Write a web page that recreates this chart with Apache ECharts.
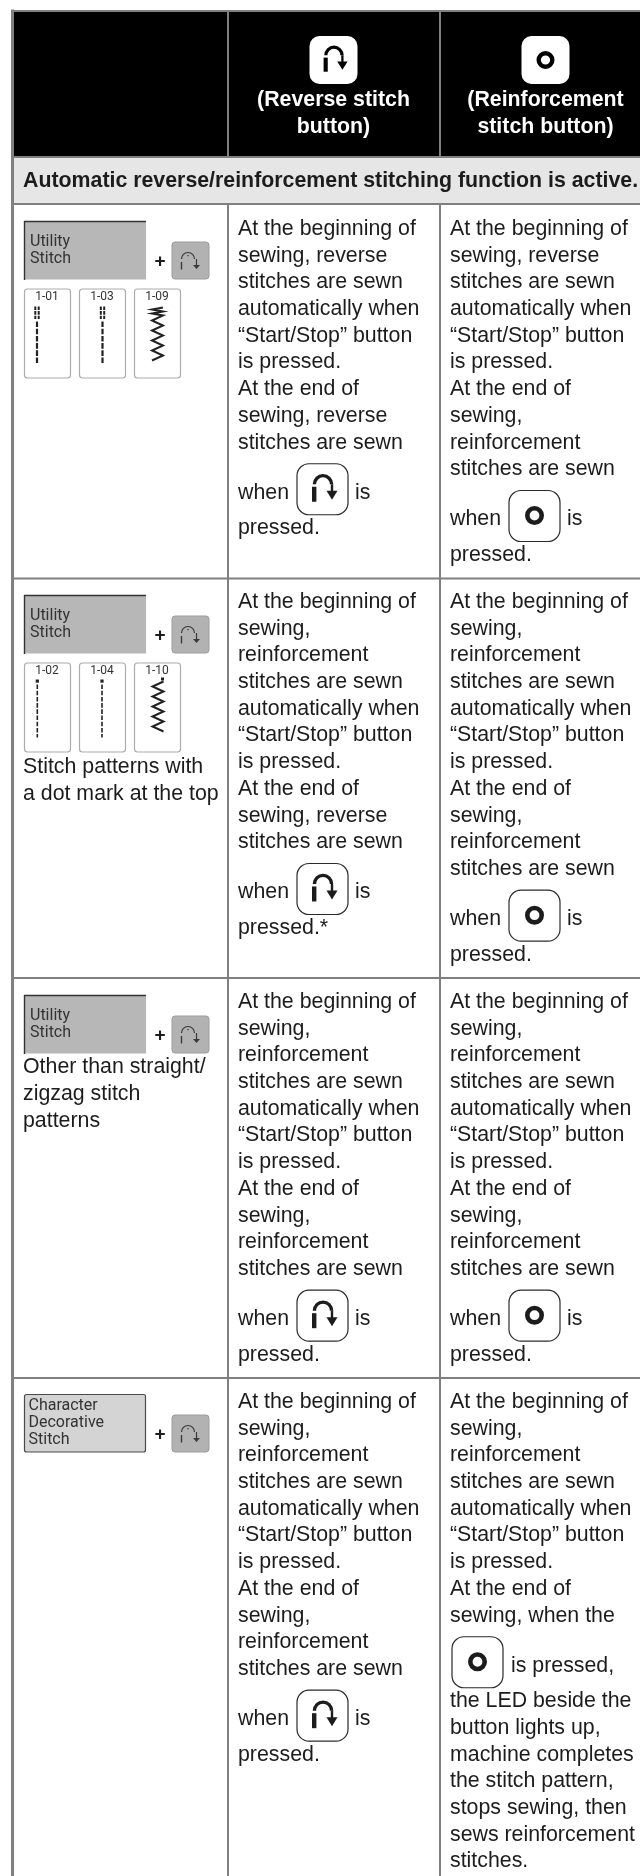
<!DOCTYPE html>
<html>
<head>
<meta charset="utf-8">
<style>
  html, body { margin: 0; padding: 0; background: #fff; }
  #chart { width: 640px; height: 1876px; }
</style>
<script src="https://cdn.jsdelivr.net/npm/echarts@6/dist/echarts.min.js"></script>
</head>
<body>
<div id="chart"></div>
<script>
// table content
const headLabels = [['(Reverse stitch', 'button)'], ['(Reinforcement', 'stitch button)']]
const sectionTitle = 'Automatic reverse/reinforcement stitching function is active.'
const panelNames = [['Utility', 'Stitch'], ['Utility', 'Stitch'], ['Utility', 'Stitch'], ['Character', 'Decorative', 'Stitch']]
const cardLabels = [['1-01', '1-03', '1-09'], ['1-02', '1-04', '1-10'], [], []]
const firstColNotes = [[], ['Stitch patterns with', 'a dot mark at the top'], ['Other than straight/', 'zigzag stitch', 'patterns'], []]
const reverseTexts = [
  ['At the beginning of', 'sewing, reverse', 'stitches are sewn', 'automatically when', '“Start/Stop” button', 'is pressed.', 'At the end of', 'sewing, reverse', 'stitches are sewn', 'when {r} is', 'pressed.'],
  ['At the beginning of', 'sewing,', 'reinforcement', 'stitches are sewn', 'automatically when', '“Start/Stop” button', 'is pressed.', 'At the end of', 'sewing, reverse', 'stitches are sewn', 'when {r} is', 'pressed.*'],
  ['At the beginning of', 'sewing,', 'reinforcement', 'stitches are sewn', 'automatically when', '“Start/Stop” button', 'is pressed.', 'At the end of', 'sewing,', 'reinforcement', 'stitches are sewn', 'when {r} is', 'pressed.'],
  ['At the beginning of', 'sewing,', 'reinforcement', 'stitches are sewn', 'automatically when', '“Start/Stop” button', 'is pressed.', 'At the end of', 'sewing,', 'reinforcement', 'stitches are sewn', 'when {r} is', 'pressed.']
]
const reinforceTexts = [
  ['At the beginning of', 'sewing, reverse', 'stitches are sewn', 'automatically when', '“Start/Stop” button', 'is pressed.', 'At the end of', 'sewing,', 'reinforcement', 'stitches are sewn', 'when {o} is', 'pressed.'],
  ['At the beginning of', 'sewing,', 'reinforcement', 'stitches are sewn', 'automatically when', '“Start/Stop” button', 'is pressed.', 'At the end of', 'sewing,', 'reinforcement', 'stitches are sewn', 'when {o} is', 'pressed.'],
  ['At the beginning of', 'sewing,', 'reinforcement', 'stitches are sewn', 'automatically when', '“Start/Stop” button', 'is pressed.', 'At the end of', 'sewing,', 'reinforcement', 'stitches are sewn', 'when {o} is', 'pressed.'],
  ['At the beginning of', 'sewing,', 'reinforcement', 'stitches are sewn', 'automatically when', '“Start/Stop” button', 'is pressed.', 'At the end of', 'sewing, when the', '{o} is pressed,', 'the LED beside the', 'button lights up,', 'machine completes', 'the stitch pattern,', 'stops sewing, then', 'sews reinforcement', 'stitches.']
]

// layout, in page pixels
const colEdges = [12.5, 228, 440, 640]
const rowEdges = [11, 157, 204, 578.5, 978, 1378, 1876]
const rowTops = rowEdges.slice(2, 6)
const firstLineGap = [25, 23.5, 24, 24]
const LINE = 26.72
const SANS = 'Liberation Sans'
const INK = '#1c1c1c'
const GRID = '#808080'

const chart = echarts.init(document.getElementById('chart'))

function px(api, x, y) { return api.coord([x, y]) }

function label(api, text, x, y, opt) {
  opt = opt || {}
  const p = px(api, x, y)
  return {
    type: 'text',
    style: {
      text, x: p[0], y: p[1],
      fontFamily: opt.family || SANS, fontSize: opt.size || 21.33, fontWeight: opt.weight || 'normal',
      fill: opt.fill || INK, textAlign: opt.align || 'left', textVerticalAlign: 'middle'
    }
  }
}
function box(api, x, y, w, h, r, fill, stroke, lw) {
  const p = px(api, x, y)
  return { type: 'rect', shape: { x: p[0], y: p[1], width: w, height: h, r }, style: { fill, stroke: stroke || null, lineWidth: lw || 0 } }
}
function seg(api, x1, y1, x2, y2, stroke, lw, dash) {
  const a = px(api, x1, y1), b = px(api, x2, y2)
  return { type: 'line', shape: { x1: a[0], y1: a[1], x2: b[0], y2: b[1] }, style: { stroke, lineWidth: lw, lineDash: dash || null } }
}
function poly(api, pts, style, closed) {
  return { type: closed ? 'polygon' : 'polyline', shape: { points: pts.map(q => px(api, q[0], q[1])) }, style }
}
function ring(api, cx, cy, r, lw, stroke) {
  const p = px(api, cx, cy)
  return { type: 'circle', shape: { cx: p[0], cy: p[1], r }, style: { fill: null, stroke, lineWidth: lw } }
}

// the U-turn glyph, s scales it from the 51px button
function reverseGlyph(api, x, y, s, c) {
  const p = px(api, x + 26 * s, y + 20.5 * s)
  const head = [[x + 29.5 * s, y + 27 * s], [x + 40.5 * s, y + 27 * s], [x + 35 * s, y + 36 * s]]
  return [
    box(api, x + 15 * s, y + 23 * s, 4.4 * s, 15 * s, 0, c),
    { type: 'arc', shape: { cx: p[0], cy: p[1], r: 8.6 * s, startAngle: Math.PI, endAngle: 0, clockwise: true }, style: { fill: null, stroke: c, lineWidth: 3.4 * s } },
    box(api, x + 33.8 * s, y + 20.5 * s, 2.4 * s, 8 * s, 0, c),
    poly(api, head, { fill: c }, true)
  ]
}
function inlineButton(api, x, y, kind) {
  const kids = [box(api, x, y, 51, 51, 12, '#fff', '#2a2a2a', 1.2)]
  if (kind === 'r') kids.push(...reverseGlyph(api, x, y, 1, '#1c1c1c'))
  else kids.push(ring(api, x + 25.5, y + 25, 7.2, 4.6, '#1c1c1c'))
  return kids
}
function smallButton(api, x, y) {
  const c = px(api, x + 16, y + 17)
  const head = [[x + 21, y + 23], [x + 28, y + 23], [x + 24.5, y + 27]]
  return [
    box(api, x, y, 37, 37, 3, '#b2b2b2', '#9c9c9c', 1),
    { type: 'arc', shape: { cx: c[0], cy: c[1], r: 6.5, startAngle: Math.PI, endAngle: 0, clockwise: true }, style: { fill: null, stroke: '#3a3a3a', lineWidth: 1.2 } },
    box(api, x + 15.4, y + 13, 1.3, 1.3, 0, '#3a3a3a'),
    seg(api, x + 9.5, y + 20, x + 9.5, y + 27.5, '#3a3a3a', 1.4),
    seg(api, x + 24.5, y + 17, x + 24.5, y + 24, '#3a3a3a', 1.2),
    poly(api, head, { fill: '#3a3a3a' }, true)
  ]
}
function stitchCard(api, x, y, text, k, cx) {
  const kids = [box(api, x + 0.5, y + 0.5, 46, 89, 3, '#fff', '#acacac', 1.2)]
  kids.push(label(api, text, x + 23, y + 8.5, { family: 'Roboto', size: 12, fill: '#333', align: 'center' }))
  const top = y + 18, bottom = y + 75
  if (k === 'double') {
    kids.push(seg(api, cx - 1.7, top, cx - 1.7, top + 12.5, '#222', 2, [3.6, 1]))
    kids.push(seg(api, cx + 1.7, top, cx + 1.7, top + 12.5, '#222', 2, [3.6, 1]))
    kids.push(seg(api, cx, top + 15, cx, bottom, '#222', 2.2, [5.6, 1.6]))
  } else if (k === 'dot') {
    kids.push(box(api, cx - 1.6, top - 1, 3.2, 3.2, 0, '#222'))
    kids.push(seg(api, cx, top + 4, cx, bottom, '#222', 1.6, [4.6, 1.6]))
  } else {
    const pts = [], tight = k === 'zigdense'
    let yy = top + 1, side = 1
    if (tight) for (let i = 0; i < 4; i++) { pts.push([cx + side * 5.5, yy]); yy += 2; side = -side }
    while (yy < bottom - 1) { pts.push([cx + side * 5.5, yy]); yy += 5; side = -side }
    kids.push(poly(api, pts, { fill: null, stroke: '#222', lineWidth: 2 }))
    if (!tight) kids.push(box(api, cx + 3, top - 3, 3, 3, 0, '#222'))
  }
  return kids
}

// flat lists the custom series walk over
const bodyLines = []
function pushColumn(lines, rowTop, x) {
  let y = rowTop
  lines.forEach((text, i) => {
    bodyLines.push({ text, x, y })
    const hasBtn = text.indexOf('{') >= 0, nextBtn = i + 1 < lines.length && lines[i + 1].indexOf('{') >= 0
    y += nextBtn ? 50 : hasBtn ? 35.5 : LINE
  })
}
rowTops.forEach((top, r) => {
  pushColumn(reverseTexts[r], top + firstLineGap[r], colEdges[1] + 10)
  pushColumn(reinforceTexts[r], top + firstLineGap[r], colEdges[2] + 10)
})

function renderLine(params, api) {
  const line = bodyLines[api.value(0)]
  const m = line.text.match(/^(.*?)\s*\{(r|o)\}\s*(.*)$/)
  if (!m) return label(api, line.text, line.x, line.y)
  const kids = []
  const btnX = m[1] ? line.x + 59 : line.x + 2
  const tailX = m[1] ? line.x + 117 : line.x + 61
  if (m[1]) kids.push(label(api, m[1], line.x, line.y))
  kids.push(...inlineButton(api, btnX, line.y - 29, m[2]))
  kids.push(label(api, m[3], tailX, line.y))
  return { type: 'group', children: kids }
}

function renderGrid(params, api) {
  const kids = []
  kids.push(box(api, colEdges[0], rowEdges[0], 640 - colEdges[0], rowEdges[1] - rowEdges[0], 0, '#000'))
  kids.push(box(api, colEdges[0], rowEdges[1], 640 - colEdges[0], rowEdges[2] - rowEdges[1], 0, '#e6e6e6'))
  // borders
  kids.push(seg(api, colEdges[0], rowEdges[6], colEdges[0], 9.5, GRID, 3))
  kids.push(seg(api, colEdges[0], 11, 640, 11, GRID, 2))
  ;[colEdges[1], colEdges[2]].forEach(x => {
    kids.push(seg(api, x, rowEdges[0], x, rowEdges[1], GRID, 2))
    kids.push(seg(api, x, rowEdges[2], x, rowEdges[6], GRID, 2))
  })
  rowEdges.slice(1, 6).forEach(y => kids.push(seg(api, colEdges[0], y, 640, y, GRID, 2)))
  // header
  headLabels.forEach((lines, i) => {
    const cx = i === 0 ? 333.5 : 545.5
    kids.push(box(api, cx - 24, 36, 48, 48, 10, '#fff'))
    if (i === 0) kids.push(...reverseGlyph(api, cx - 24, 36, 0.94, '#000'))
    else kids.push(ring(api, cx, 60, 6.8, 4.4, '#000'))
    lines.forEach((t, j) => kids.push(label(api, t, cx, 100.5 + j * 26.7, { weight: 'bold', fill: '#fff', align: 'center' })))
  })
  kids.push(label(api, sectionTitle, 23, 181.5, { weight: 'bold' }))
  return { type: 'group', children: kids }
}

const panelTops = [221, 595, 995, 1394]
const cardKinds = [['double', 'double', 'zigdense'], ['dot', 'dot', 'zig'], [], []]
const stitchX = [[37, 102.5, 157.5], [37.3, 102, 158], [], []]
function renderPanel(params, api) {
  const r = api.value(0)
  const top = panelTops[r]
  const kids = []
  const light = panelNames[r].length === 3
  if (light) {
    kids.push(box(api, 24.5, top + 0.5, 121, 57.5, 2, '#d4d4d4', '#4a4a4a', 1.2))
    panelNames[r].forEach((t, i) => kids.push(label(api, t, 28.5, top + 11.5 + i * 17, { family: 'Roboto', size: 16, fill: '#333' })))
  } else {
    kids.push(box(api, 24.5, top + 0.5, 121.5, 58, 0, '#b7b7b7', null))
    kids.push(seg(api, 24, top + 0.5, 146, top + 0.5, '#333', 1.4))
    kids.push(seg(api, 24.5, top, 24.5, top + 59, '#333', 1.4))
    panelNames[r].forEach((t, i) => kids.push(label(api, t, 30, top + 21 + i * 17, { family: 'Roboto', size: 16, fill: '#333' })))
  }
  kids.push(label(api, '+', 160, top + 41, { weight: 'bold', size: 19, align: 'center' }))
  kids.push(...smallButton(api, 172, top + 21))
  cardLabels[r].forEach((t, i) => {
    kids.push(...stitchCard(api, 24 + i * 55, top + 67.5, t, cardKinds[r][i], stitchX[r][i]))
  })
  const noteTop = r === 1 ? 767.5 : 1067.5
  firstColNotes[r].forEach((t, i) => kids.push(label(api, t, 23, noteTop + i * LINE)))
  return { type: 'group', children: kids }
}

chart.setOption({
  animation: false,
  grid: { left: 0, right: 0, top: 0, bottom: 0 },
  xAxis: { type: 'value', min: 0, max: 640, show: false },
  yAxis: { type: 'value', min: 0, max: 1876, inverse: true, show: false },
  series: [
    { type: 'custom', silent: true, clip: false, coordinateSystem: 'cartesian2d', data: [[0, 0]], renderItem: renderGrid, z: 1 },
    { type: 'custom', silent: true, clip: false, data: panelNames.map((_, i) => [i, 0]), renderItem: renderPanel, z: 2 },
    { type: 'custom', silent: true, clip: false, data: bodyLines.map((_, i) => [i, 0]), renderItem: renderLine, z: 3 }
  ]
})
</script>
</body>
</html>
